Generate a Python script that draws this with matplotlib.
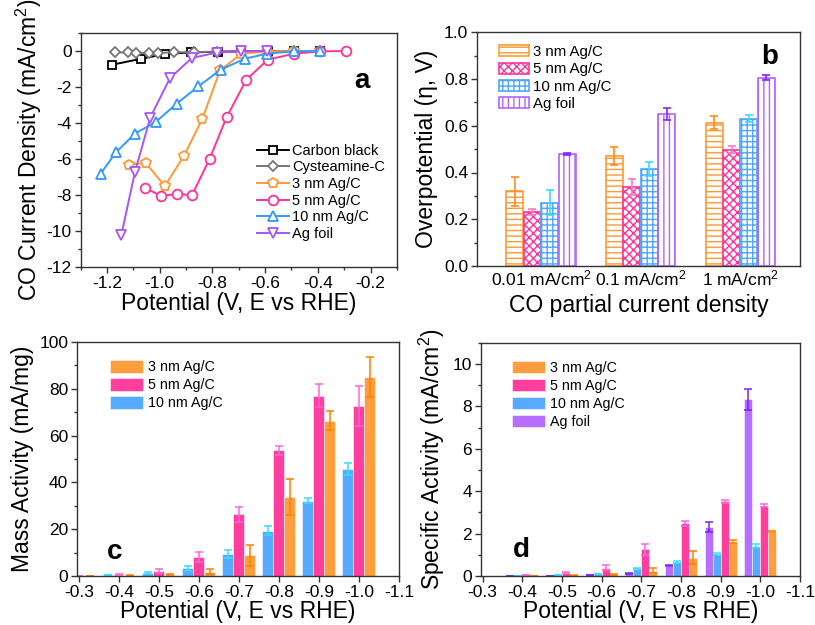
import matplotlib
matplotlib.use("Agg")
import matplotlib.pyplot as plt
import numpy as np
from matplotlib.ticker import MultipleLocator

plt.rcParams['font.family'] = ['Liberation Sans', 'DejaVu Sans']
plt.rcParams['mathtext.fontset'] = 'custom'
plt.rcParams['mathtext.rm'] = 'Liberation Sans'
plt.rcParams['mathtext.it'] = 'Liberation Sans:italic'
plt.rcParams['hatch.linewidth'] = 1.0

# ---------------- Panel a data ----------------
cb_v = [-1.18, -1.07, -0.98, -0.88, -0.78, -0.69, -0.59, -0.49, -0.39]
cb_j = [-0.76, -0.43, -0.17, -0.08, -0.04, -0.02, -0.01, 0.0, 0.0]
cys_v = [-1.17, -1.12, -1.09, -1.04, -1.006, -0.944, -0.871, -0.784, -0.69, -0.594, -0.49, -0.39]
cys_j = [-0.08, -0.08, -0.1, -0.1, -0.1, -0.08, -0.06, -0.04, -0.02, -0.01, 0.0, 0.0]
n3_v = [-1.115, -1.053, -0.981, -0.909, -0.838, -0.771, -0.69, -0.594, -0.49, -0.39]
n3_j = [-6.31, -6.22, -7.5, -5.85, -3.76, -1.07, -0.15, -0.03, 0.0, 0.0]
n5_v = [-1.056, -0.994, -0.936, -0.878, -0.811, -0.746, -0.671, -0.59, -0.49, -0.39, -0.294]
n5_j = [-7.59, -8.07, -7.93, -8.02, -6.0, -3.67, -1.59, -0.48, -0.15, -0.02, 0.0]
n10_v = [-1.224, -1.165, -1.094, -1.015, -0.936, -0.853, -0.769, -0.678, -0.594, -0.49, -0.39]
n10_j = [-6.81, -5.61, -4.59, -3.94, -2.93, -1.96, -1.04, -0.43, -0.15, -0.02, 0.0]
foil_v = [-1.146, -1.094, -1.036, -0.961, -0.878, -0.784, -0.69, -0.594]
foil_j = [-10.24, -6.72, -3.7, -1.5, -0.39, -0.09, -0.02, 0.0]

# ---------------- Panel b data ----------------
b_categories = ["0.01 mA/cm$^2$", "0.1 mA/cm$^2$", "1 mA/cm$^2$"]
b_labels = ["3 nm Ag/C", "5 nm Ag/C", "10 nm Ag/C", "Ag foil"]
b_vals = {
    "3 nm Ag/C": [0.32, 0.47, 0.612],
    "5 nm Ag/C": [0.23, 0.337, 0.498],
    "10 nm Ag/C": [0.27, 0.415, 0.629],
    "Ag foil": [0.48, 0.649, 0.805],
}
b_errs = {
    "3 nm Ag/C": [0.062, 0.037, 0.028],
    "5 nm Ag/C": [0.012, 0.035, 0.016],
    "10 nm Ag/C": [0.053, 0.032, 0.015],
    "Ag foil": [0.005, 0.026, 0.01],
}

# ---------------- Panel c data ----------------
c_potentials = [-0.3, -0.4, -0.5, -0.6, -0.7, -0.8, -0.9, -1.0]
c_3nm = [0.1, 0.2, 0.5, 1.85, 8.8, 33.8, 66.4, 85.0]
c_3nm_err = [0.0, 0.1, 0.2, 1.0, 4.5, 7.8, 4.0, 8.5]
c_5nm = [0.05, 0.6, 2.3, 8.1, 26.4, 53.7, 77.1, 72.6]
c_5nm_err = [0.0, 0.2, 0.9, 2.0, 3.3, 2.0, 5.0, 8.5]
c_10nm = [0.05, 0.4, 1.1, 3.3, 9.4, 19.4, 32.2, 45.6]
c_10nm_err = [0.0, 0.1, 0.4, 1.0, 1.5, 2.0, 1.0, 2.5]

# ---------------- Panel d data ----------------
d_potentials = [-0.4, -0.5, -0.6, -0.7, -0.8, -0.9, -1.0]
d_foil = [0.01, 0.02, 0.05, 0.13, 0.49, 2.31, 8.33]
d_foil_err = [0.0, 0.0, 0.01, 0.02, 0.03, 0.25, 0.5]
d_10nm = [0.02, 0.05, 0.1, 0.35, 0.65, 1.04, 1.43]
d_10nm_err = [0.0, 0.01, 0.01, 0.03, 0.05, 0.03, 0.1]
d_5nm = [0.04, 0.15, 0.38, 1.26, 2.49, 3.53, 3.31]
d_5nm_err = [0.01, 0.03, 0.12, 0.25, 0.12, 0.07, 0.07]
d_3nm = [0.02, 0.03, 0.08, 0.25, 0.87, 1.62, 2.09]
d_3nm_err = [0.0, 0.01, 0.02, 0.12, 0.3, 0.08, 0.02]

ORANGE = '#FF9933'
PINK = '#FF3399'
BLUE = '#4DA6FF'
PURPLE = '#B266FF'
ORANGE_E = '#FF8000'
PINK_E = '#FF66DD'
BLUE_E = '#33E0FF'
PURPLE_E = '#7F1FFF'
SPINE = '#333333'

fig = plt.figure(figsize=(8.15, 6.25), dpi=100)
ax_a = fig.add_axes([0.099, 0.5728, 0.388, 0.3744])
ax_b = fig.add_axes([0.5856, 0.5744, 0.396, 0.374])
ax_c = fig.add_axes([0.0948, 0.0784, 0.3947, 0.3744])
ax_d = fig.add_axes([0.5902, 0.0784, 0.3914, 0.3733])

LBL = 16.5
TCK = 12.5


def style(ax):
    for s in ax.spines.values():
        s.set_color(SPINE)
        s.set_linewidth(1.0)
    ax.tick_params(which='both', direction='out', color=SPINE, labelsize=TCK, width=1.0, pad=2.5)
    ax.tick_params(which='major', length=4)
    ax.tick_params(which='minor', length=2.5)
    ax.tick_params(top=False, right=False)


# ---------------- Panel a ----------------
series_a = [
    (cb_v, cb_j, 'Carbon black', 'black', 's', 6),
    (cys_v, cys_j, 'Cysteamine-C', '#777777', 'D', 5.5),
    (n3_v, n3_j, '3 nm Ag/C', ORANGE, 'p', 7.5),
    (n5_v, n5_j, '5 nm Ag/C', PINK, 'o', 7),
    (n10_v, n10_j, '10 nm Ag/C', '#3399FF', '^', 7.5),
    (foil_v, foil_j, 'Ag foil', '#A855F7', 'v', 7.5),
]
for v, j, lab, col, mk, ms in series_a:
    ax_a.plot(v, j, color=col, marker=mk, ms=ms, mfc='white', mec=col, mew=1.3, lw=1.4, label=lab)
ax_a.set_xlim(-1.3, -0.1)
ax_a.set_ylim(-12, 1)
ax_a.xaxis.set_minor_locator(MultipleLocator(0.1))
ax_a.yaxis.set_minor_locator(MultipleLocator(1))
ax_a.set_xticks([-1.2, -1.0, -0.8, -0.6, -0.4, -0.2])
ax_a.set_xticklabels(['-1.2', '-1.0', '-0.8', '-0.6', '-0.4', '-0.2'])
ax_a.set_yticks([0, -2, -4, -6, -8, -10, -12])
ax_a.set_yticklabels(['0', '-2', '-4', '-6', '-8', '-10', '-12'])
style(ax_a)
ax_a.set_xlabel('Potential (V, E vs RHE)', fontsize=LBL, labelpad=1)
ax_a.set_ylabel('CO Current Density (mA/cm$^2$)', fontsize=LBL, labelpad=2)
ax_a.legend(loc='upper left', bbox_to_anchor=(0.525, 0.57), frameon=False, fontsize=10.5,
            handlelength=2.2, handletextpad=0.2, labelspacing=0.18, borderpad=0.2)
ax_a.text(0.888, 0.795, 'a', transform=ax_a.transAxes, fontsize=20, fontweight='bold',
          ha='center', va='center')

# ---------------- Panel b ----------------
xb = np.arange(1, len(b_categories) + 1)
w = 0.17
offs = [-0.2625, -0.0875, 0.0875, 0.2625]
b_cols = [ORANGE, PINK, BLUE, PURPLE]
b_ecols = ['#FF8C1A', '#FF77CC', '#33DDFF', '#8822FF']
hatches = ['---', 'xxxx', '+++', '|||']
for lab, off, col, ecol, h in zip(b_labels, offs, b_cols, b_ecols, hatches):
    ax_b.bar(xb + off, b_vals[lab], width=w, facecolor='white', edgecolor=col, hatch=h,
             linewidth=1.2, label=lab)
    ax_b.errorbar(xb + off, b_vals[lab], yerr=b_errs[lab], fmt='none', ecolor=ecol,
                  elinewidth=1.2, capsize=3, capthick=1.2)
ax_b.set_xlim(0.36, 3.6)
ax_b.set_ylim(0, 1.0)
ax_b.set_xticks(xb)
ax_b.set_xticklabels(b_categories)
ax_b.yaxis.set_major_locator(MultipleLocator(0.2))
ax_b.yaxis.set_minor_locator(MultipleLocator(0.1))
style(ax_b)
ax_b.tick_params(axis='x', length=0, pad=2)
ax_b.yaxis.set_major_formatter(matplotlib.ticker.FormatStrFormatter('%.1f'))
ax_b.set_xlabel('CO partial current density', fontsize=LBL, labelpad=4)
ax_b.set_ylabel('Overpotential (η, V)', fontsize=LBL, labelpad=4)
ax_b.legend(loc='upper left', bbox_to_anchor=(0.035, 0.99), frameon=False, fontsize=10.8,
            handlelength=2.0, handleheight=0.75, handletextpad=0.25, labelspacing=0.22,
            borderpad=0.2)
ax_b.text(0.907, 0.896, 'b', transform=ax_b.transAxes, fontsize=20, fontweight='bold',
          ha='center', va='center')

# ---------------- Panel c ----------------
xc = np.array(c_potentials)
wc = 0.0275
for vals, errs, off, col, ecol, lab in [
        (c_10nm, c_10nm_err, wc, BLUE, BLUE_E, '10 nm Ag/C'),
        (c_5nm, c_5nm_err, 0.0, PINK, PINK_E, '5 nm Ag/C'),
        (c_3nm, c_3nm_err, -wc, ORANGE, ORANGE_E, '3 nm Ag/C')]:
    ax_c.bar(xc + off, vals, width=wc, color=col, alpha=0.95, edgecolor='white',
             linewidth=0.4, label=lab)
    ax_c.errorbar(xc + off, vals, yerr=errs, fmt='none', ecolor=ecol, elinewidth=1.1,
                  capsize=2.8, capthick=1.1)
ax_c.set_xlim(-0.296, -1.1)
ax_c.set_ylim(0, 100)
ax_c.set_xticks([-0.3, -0.4, -0.5, -0.6, -0.7, -0.8, -0.9, -1.0, -1.1])
ax_c.set_xticklabels(['-0.3', '-0.4', '-0.5', '-0.6', '-0.7', '-0.8', '-0.9', '-1.0', '-1.1'])
ax_c.yaxis.set_major_locator(MultipleLocator(20))
ax_c.yaxis.set_minor_locator(MultipleLocator(10))
style(ax_c)
ax_c.set_xlabel('Potential (V, E vs RHE)', fontsize=LBL, labelpad=0)
ax_c.set_ylabel('Mass Activity (mA/mg)', fontsize=LBL, labelpad=4)
hc, lc = ax_c.get_legend_handles_labels()
order = [2, 1, 0]
ax_c.legend([hc[i] for i in order], [lc[i] for i in order], loc='upper left',
            bbox_to_anchor=(0.07, 0.965), frameon=False, fontsize=10.3, handlelength=2.3,
            handleheight=0.95, handletextpad=0.4, labelspacing=0.28, borderpad=0.2)
ax_c.text(0.117, 0.104, 'c', transform=ax_c.transAxes, fontsize=20, fontweight='bold',
          ha='center', va='center')

# ---------------- Panel d ----------------
xd = np.array(d_potentials)
wd = 0.02
for vals, errs, off, col, ecol, lab in [
        (d_foil, d_foil_err, 0.03, PURPLE, PURPLE_E, 'Ag foil'),
        (d_10nm, d_10nm_err, 0.01, BLUE, BLUE_E, '10 nm Ag/C'),
        (d_5nm, d_5nm_err, -0.01, PINK, PINK_E, '5 nm Ag/C'),
        (d_3nm, d_3nm_err, -0.03, ORANGE, ORANGE_E, '3 nm Ag/C')]:
    ax_d.bar(xd + off, vals, width=wd, color=col, alpha=0.95, edgecolor='white',
             linewidth=0.4, label=lab)
    ax_d.errorbar(xd + off, vals, yerr=errs, fmt='none', ecolor=ecol, elinewidth=1.1,
                  capsize=2.8, capthick=1.1)
ax_d.set_xlim(-0.296, -1.1)
ax_d.set_ylim(0, 11)
ax_d.set_xticks([-0.3, -0.4, -0.5, -0.6, -0.7, -0.8, -0.9, -1.0, -1.1])
ax_d.set_xticklabels(['-0.3', '-0.4', '-0.5', '-0.6', '-0.7', '-0.8', '-0.9', '-1.0', '-1.1'])
ax_d.yaxis.set_minor_locator(MultipleLocator(1))
ax_d.set_yticks([0, 2, 4, 6, 8, 10])
style(ax_d)
ax_d.set_xlabel('Potential (V, E vs RHE)', fontsize=LBL, labelpad=0)
ax_d.set_ylabel('Specific Activity (mA/cm$^2$)', fontsize=LBL, labelpad=4)
hd, ld = ax_d.get_legend_handles_labels()
order = [3, 2, 1, 0]
ax_d.legend([hd[i] for i in order], [ld[i] for i in order], loc='upper left',
            bbox_to_anchor=(0.065, 0.965), frameon=False, fontsize=10.3, handlelength=2.3,
            handleheight=0.95, handletextpad=0.4, labelspacing=0.28, borderpad=0.2)
ax_d.text(0.128, 0.111, 'd', transform=ax_d.transAxes, fontsize=20, fontweight='bold',
          ha='center', va='center')

fig.savefig('out.png', dpi=100)
